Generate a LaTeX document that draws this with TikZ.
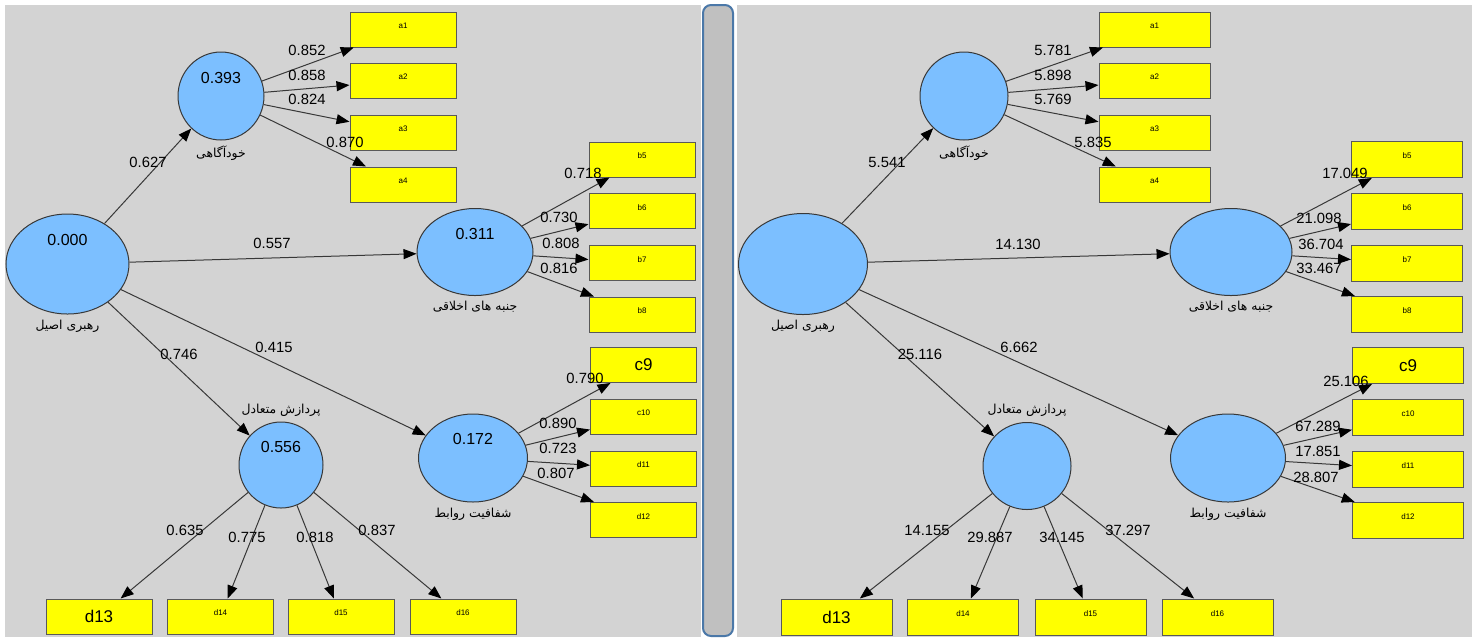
\documentclass[tikz,border=0pt]{standalone}
\usepackage{fontspec}
\setmainfont{Liberation Sans}
\newfontfamily\fafont[Script=Arabic]{DejaVu Sans}
\TeXXeTstate=1
\usetikzlibrary{shapes.geometric, arrows.meta}

\definecolor{panelgray}{HTML}{D3D3D3}
\definecolor{latentblue}{HTML}{7CBFFF}
\definecolor{boxyellow}{HTML}{FFFF00}
\definecolor{bargray}{HTML}{C0C0C0}
\definecolor{barblue}{HTML}{4B78A8}
\definecolor{edgegray}{HTML}{383838}

\begin{document}
\begin{tikzpicture}
[
    x=0.5pt, y=-0.5pt,
    % The strategy is to name nodes: side-name
    % Latent variables are named L-lv0 ... L-lv4 and R-lv0 ... R-lv4
    % Indicators are named L-a1 ... L-d16 and R-a1 ... R-d16
    lv/.style     = {ellipse, draw=edgegray, fill=latentblue, line width=0.5pt, inner sep=0pt},
    val/.style    = {font=\fontsize{8}{9}\selectfont, inner sep=0pt},
    faname/.style = {font=\fontsize{6.2}{7}\selectfont\fafont, inner sep=2.5pt},
    ind/.style    = {draw=black!65, fill=boxyellow, line width=0.5pt, inner sep=0pt,
                     minimum width=53pt, minimum height=17.5pt,
                     font=\fontsize{4}{5}\selectfont, text height=7pt, text depth=8pt},
    indbig/.style = {draw=black!65, fill=boxyellow, line width=0.5pt, inner sep=0pt,
                     minimum width=53pt, minimum height=17.5pt,
                     font=\fontsize{8.5}{10}\selectfont},
    num/.style    = {font=\fontsize{7.4}{9}\selectfont, inner sep=0pt},
    arr/.style    = {draw=edgegray, line width=0.5pt,
                     -{Triangle[length=6.5pt, width=5pt, color=black]}}
]

\useasboundingbox (0,0) rectangle (1472,639);

%================================ Background ================================
\fill[white] (0,0) rectangle (1472,639);
\fill[panelgray] (5,5) rectangle (701,637);
\fill[panelgray] (737,5) rectangle (1472,637);
\draw[barblue, fill=bargray, line width=1pt, rounded corners=4pt] (703,5) rectangle (733,636);

%================================ Left panel ================================
{
    % latent variables
    \node[lv, minimum width=61.5pt, minimum height=50pt,
          label={[val, yshift=12pt]center:0.000},
          label={[faname]below:\beginR رهبری اصیل\endR}] (L-lv0) at (67.5,264) {};
    \node[lv, minimum width=43pt, minimum height=44pt,
          label={[val, yshift=9pt]center:0.393},
          label={[faname]below:\beginR خودآگاهی\endR}] (L-lv1) at (221,96) {};
    \node[lv, minimum width=58pt, minimum height=43.5pt,
          label={[val, yshift=9pt]center:0.311},
          label={[faname]below:\beginR جنبه های اخلاقی\endR}] (L-lv2) at (475,252) {};
    \node[lv, minimum width=42pt, minimum height=43pt,
          label={[val, yshift=9pt]center:0.556},
          label={[faname]above:\beginR پردازش متعادل\endR}] (L-lv3) at (281,465) {};
    \node[lv, minimum width=54.5pt, minimum height=44pt,
          label={[val, yshift=9.5pt]center:0.172},
          label={[faname]below:\beginR شفافیت روابط\endR}] (L-lv4) at (473,458) {};

    % indicators
    \foreach \n / \y in {a1/29.5, a2/80.5, a3/132.5, a4/184.5}
        \node[ind] (L-\n) at (403,\y) {\n};
    \foreach \n / \y in {b5/159.5, b6/211, b7/263, b8/314.5}
        \node[ind] (L-\n) at (642,\y) {\n};
    \node[indbig] (L-c9) at (643.5,365) {c9};
    \foreach \n / \y in {c10/416.5, d11/468.5, d12/520}
        \node[ind] (L-\n) at (643.5,\y) {\n};
    \node[indbig] (L-d13) at (99,616.5) {d13};
    \foreach \n / \x in {d14/220.5, d15/341, d16/463}
        \node[ind] (L-\n) at (\x,616.5) {\n};

    % inner model
    \foreach \t / \v / \lx / \ly in {lv1/0.627/148/162, lv2/0.557/272/243,
                                    lv3/0.746/179/354, lv4/0.415/274/347}
        \draw[arr] (L-lv0) -- (L-\t) node[num] at (\lx,\ly) {\v};

    % outer model
    \foreach \b / \v / \lx / \ly in {a1/0.852/307/50, a2/0.858/307/75,
                                    a3/0.824/307/99, a4/0.870/345/142}
        \draw[arr] (L-lv1) -- (L-\b) node[num] at (\lx,\ly) {\v};
    \foreach \b / \v / \lx / \ly in {b5/0.718/583/173, b6/0.730/559/217,
                                    b7/0.808/561/243, b8/0.816/559/268}
        \draw[arr] (L-lv2) -- (L-\b) node[num] at (\lx,\ly) {\v};
    \foreach \b / \v / \lx / \ly in {c9/0.790/585/378, c10/0.890/558/423,
                                    d11/0.723/558/448, d12/0.807/556/473}
        \draw[arr] (L-lv4) -- (L-\b) node[num] at (\lx,\ly) {\v};
    \foreach \b / \v / \lx / \ly in {d13/0.635/185/530, d14/0.775/247/537,
                                    d15/0.818/315/537, d16/0.837/377/530}
        \draw[arr] (L-lv3) -- (L-\b) node[num] at (\lx,\ly) {\v};
}

%================================ Right panel ===============================
{
    % latent variables
    \node[lv, minimum width=64.5pt, minimum height=50.5pt,
          label={[faname]below:\beginR رهبری اصیل\endR}] (R-lv0) at (803,264) {};
    \node[lv, minimum width=44pt, minimum height=44pt,
          label={[faname]below:\beginR خودآگاهی\endR}] (R-lv1) at (964,96) {};
    \node[lv, minimum width=61pt, minimum height=43.5pt,
          label={[faname]below:\beginR جنبه های اخلاقی\endR}] (R-lv2) at (1231,252) {};
    \node[lv, minimum width=44pt, minimum height=43.5pt,
          label={[faname]above:\beginR پردازش متعادل\endR}] (R-lv3) at (1027,466) {};
    \node[lv, minimum width=57.5pt, minimum height=44pt,
          label={[faname]below:\beginR شفافیت روابط\endR}] (R-lv4) at (1228,458) {};

    % indicators
    \foreach \n / \y in {a1/29.5, a2/80.5, a3/132.5, a4/184.5}
        \node[ind, minimum width=55.5pt] (R-\n) at (1154.5,\y) {\n};
    \foreach \n / \y in {b5/159.5, b6/211, b7/263, b8/314.5}
        \node[ind, minimum width=55.5pt, minimum height=18pt] (R-\n) at (1407,\y) {\n};
    \node[indbig, minimum width=55.5pt, minimum height=18pt] (R-c9) at (1408,365.5) {c9};
    \foreach \n / \y in {c10/417, d11/469, d12/520.5}
        \node[ind, minimum width=55.5pt, minimum height=18pt] (R-\n) at (1408,\y) {\n};
    \node[indbig, minimum width=55.5pt, minimum height=18pt] (R-d13) at (836.5,617) {d13};
    \foreach \n / \x in {d14/963, d15/1090.5, d16/1217.5}
        \node[ind, minimum width=55.5pt, minimum height=18pt] (R-\n) at (\x,617) {\n};

    % inner model
    \foreach \t / \v / \lx / \ly in {lv1/5.541/887/162, lv2/14.130/1018/244,
                                    lv3/25.116/920/354, lv4/6.662/1019/347}
        \draw[arr] (R-lv0) -- (R-\t) node[num] at (\lx,\ly) {\v};

    % outer model
    \foreach \b / \v / \lx / \ly in {a1/5.781/1053/50, a2/5.898/1053/75,
                                    a3/5.769/1053/99, a4/5.835/1093/142}
        \draw[arr] (R-lv1) -- (R-\b) node[num] at (\lx,\ly) {\v};
    \foreach \b / \v / \lx / \ly in {b5/17.049/1345/173, b6/21.098/1319/218,
                                    b7/36.704/1321/244, b8/33.467/1319/268}
        \draw[arr] (R-lv2) -- (R-\b) node[num] at (\lx,\ly) {\v};
    \foreach \b / \v / \lx / \ly in {c9/25.106/1346/381, c10/67.289/1318/426,
                                    d11/17.851/1318/451, d12/28.807/1316/477}
        \draw[arr] (R-lv4) -- (R-\b) node[num] at (\lx,\ly) {\v};
    \foreach \b / \v / \lx / \ly in {d13/14.155/927/530, d14/29.887/990/537,
                                    d15/34.145/1062/537, d16/37.297/1128/530}
        \draw[arr] (R-lv3) -- (R-\b) node[num] at (\lx,\ly) {\v};
}

\end{tikzpicture}
\end{document}
